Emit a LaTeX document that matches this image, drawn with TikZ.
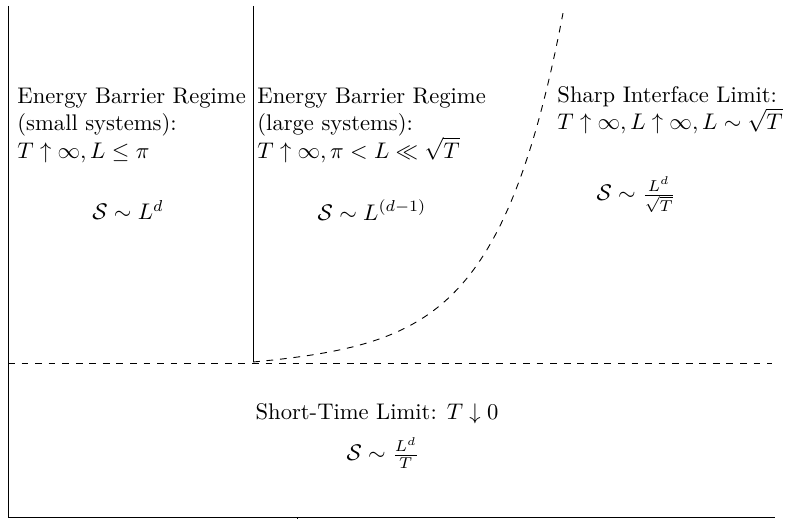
\documentclass[tikz,border=0pt]{standalone}
\usepackage{amsmath,amssymb}
\usepackage{tikz}
\usetikzlibrary{positioning}
\tikzset{
  axis/.style    = {line width=0.4pt, draw=black},
  wall/.style    = {line width=0.4pt, draw=black},
  limit/.style   = {dashed, line width=0.4pt, draw=black},
  regime/.style  = {anchor=north west, align=left, inner sep=0pt},
  law/.style     = {inner sep=0pt},
}

\begin{document}
\begin{tikzpicture}[x=0.4426pt, y=0.4426pt]
  \useasboundingbox (0,0) rectangle (786,519);
  % axes
  \coordinate (origin) at (8,1.5);
  \coordinate (ytop) at (8,513);
  \coordinate (xend) at (775,1.5);
  \draw[axis] (ytop) -- (origin) -- (xend);
  \draw[axis] (297,1.5) -- (297,0);
  % regime boundaries
  \coordinate (corner) at (253,157);
  \coordinate (walltop) at (253,513);
  \coordinate (dleft) at (8,156);
  \coordinate (dright) at (772,156);
  \draw[wall] (walltop) -- (corner);
  \draw[limit] (dleft) -- (dright);
  \draw[limit] plot[domain=0:310, samples=80]
    ({253+\x}, {157+2.75*(exp(0.0155*\x)-1)+0.05*\x});
  % regimes
  \node[regime] (small) at (17,431)
    {Energy Barrier Regime\\(small systems):\\$T\uparrow\infty, L\leq\pi$};
  \node[regime] (large) at (257,431)
    {Energy Barrier Regime\\(large systems):\\$T\uparrow\infty, \pi<L\ll\sqrt{T}$};
  \node[regime] (sharp) at (557,433)
    {Sharp Interface Limit:\\$T\uparrow\infty, L\uparrow\infty, L\sim\sqrt{T}$};
  \node[law] (smalllaw) at (128,309) {$\mathcal{S}\sim L^d$};
  \node[law] (largelaw) at (372,309) {$\mathcal{S}\sim L^{(d-1)}$};
  \node[law] (sharplaw) at (636,324) {$\mathcal{S}\sim \frac{L^d}{\sqrt{T}}$};
  \node[law] (short) at (377,105) {Short-Time Limit: $T\downarrow 0$};
  \node[law] (shortlaw) at (383,66) {$\mathcal{S}\sim \frac{L^d}{T}$};
\end{tikzpicture}
\end{document}
